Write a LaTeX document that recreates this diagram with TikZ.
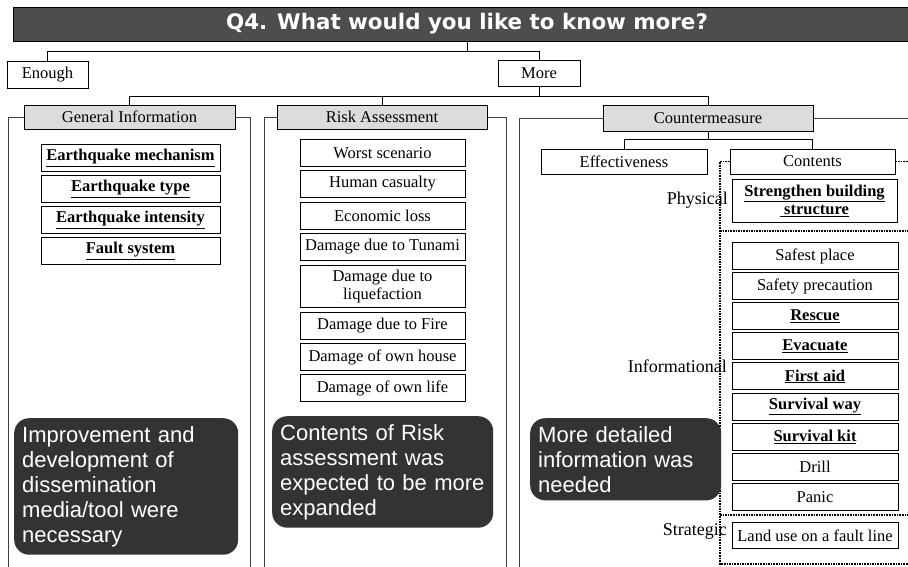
\documentclass[tikz,border=0pt]{standalone}
\usepackage{fontspec}
\setmainfont{Liberation Serif}
\setsansfont{Liberation Sans}
\newfontfamily\titlefont{DejaVu Sans}
\usepackage{tikz}

\definecolor{bargrey}{HTML}{4D4D4D}
\definecolor{headgrey}{HTML}{DCDCDC}
\definecolor{notegrey}{HTML}{333333}
\definecolor{framegrey}{HTML}{404040}
\newcommand{\ulb}[1]{\underline{\textbf{#1}}}
\newcommand{\nohyph}{\hyphenpenalty=10000\relax\exhyphenpenalty=10000\relax}

\tikzset{
    box/.style={draw, line width=1pt, fill=white, inner sep=0pt, align=center,
        font=\fontsize{16.5}{18.5}\selectfont},
    head/.style={box, fill=headgrey, minimum width=210, minimum height=24},
    item/.style={box, anchor=north, minimum height=27},
    lbl/.style={inner sep=0pt, anchor=east, font=\fontsize{18}{20}\selectfont},
    note/.style={fill=notegrey, rounded corners=15, text=white, align=left,
        inner xsep=8, inner ysep=8, anchor=north west,
        font=\sffamily\fontsize{22}{25}\selectfont\nohyph},
    frame/.style={line width=0.9pt, draw=framegrey},
    conn/.style={line width=0.9pt},
    dots/.style={densely dotted, line width=1.6pt}
}

\begin{document}
\begin{tikzpicture}[x=1pt, y=-1pt]
    \useasboundingbox (0,0) rectangle (908,566);

    % question and first split
    \node[draw, line width=1pt, fill=bargrey, minimum width=908, minimum height=34,
        inner sep=0pt, text=white, font=\titlefont\bfseries\fontsize{21.4}{25}\selectfont]
        (title) at (467,24) {Q4. What would you like to know more?};
    \node[box, minimum width=81, minimum height=27] (enough) at (47.5,74.5) {Enough};
    \node[box, minimum width=82, minimum height=26] (more) at (539,73) {More};
    \draw[conn] (title.south) -- ++(0,10) coordinate (t1);
    \draw[conn] (enough.north) |- (t1) -| (more.north);

    % three categories
    \node[head, minimum width=211] (gen) at (129.5,117) {General Information};
    \node[head] (risk) at (382,117) {Risk Assessment};
    \node[head, minimum height=26] (counter) at (708,118) {Countermeasure};
    \draw[conn] (more.south) -- ++(0,10) coordinate (m1);
    \draw[conn] (gen.north) |- (m1) -| (counter.north);
    \draw[conn] (m1) -| (risk.north);

    % column frames
    \draw[frame] (gen.west) -- (8,117) -- (8,570);
    \draw[frame] (gen.east) -- (250,117) -- (250,570);
    \draw[frame] (risk.west) -- (264,117) -- (264,570);
    \draw[frame] (risk.east) -- (506,117) -- (506,570);
    \draw[frame] (counter.west) -- (519,118) -- (519,570);
    \draw[frame] (counter.east) -- (912,118);

    % general information
    \foreach \txt [count=\i from 0] in {Earthquake mechanism, Earthquake type,
        Earthquake intensity, Fault system}
        \node[item, minimum width=179] (gi\i) at (130.5,{144+31*\i}) {\ulb{\txt}};

    % risk assessment
    \foreach \txt/\ytop/\boxh [count=\i from 0] in {Worst scenario/139/27,
        Human casualty/170/27, Economic loss/202/27, Damage due to Tunami/233/27,
        {Damage due to\\liquefaction}/265/42, Damage due to Fire/312/27,
        Damage of own house/343/27, Damage of own life/374/27}
        \node[item, minimum width=165, minimum height=\boxh] (ra\i) at (382.5,\ytop) {\txt};

    % countermeasure
    \node[box, minimum width=166, minimum height=25] (effect) at (624,161.5) {Effectiveness};
    \node[box, minimum width=165, minimum height=25] (contents) at (812.5,161.5) {Contents};
    \draw[conn] (counter.south) -- ++(0,8) coordinate (c1);
    \draw[conn] (effect.north) |- (c1) -| (contents.north);

    \draw[dots] (contents.west) -- (720,161.5) -- (720,564) -- (912,564);
    \draw[dots] (contents.east) -- (912,161.5);
    \draw[dots] (720,231) -- (912,231);
    \draw[dots] (720,515) -- (912,515);

    \node[item, minimum width=165, minimum height=43] (strength) at (814.5,179)
        {\ulb{Strengthen building}\\\ulb{\ structure}};
    \foreach \txt [count=\i from 0] in {Safest place, Safety precaution, \ulb{Rescue},
        \ulb{Evacuate}, \ulb{First aid}, \ulb{Survival way}, \ulb{Survival kit},
        Drill, Panic}
        \node[item, minimum width=166] (inf\i) at (815,{242+30.1*\i}) {\txt};
    \node[item, minimum width=166, minimum height=26] (landuse) at (815,522)
        {Land use on a fault line};

    \node[lbl] (phys) at (728,200) {Physical};
    \node[lbl] (info) at (727,366) {Informational};
    \node[lbl] (strat) at (727,531) {Strategic};

    % findings
    \node[note, text width=208] (n1) at (14,418) {Improvement and development of
        dissemination media/tool were necessary};
    \node[note, text width=205] (n2) at (272,416) {Contents of Risk assessment was
        expected to be more expanded};
    \node[note, text width=175] (n3) at (530,418) {More detailed information was
        needed};
\end{tikzpicture}
\end{document}
